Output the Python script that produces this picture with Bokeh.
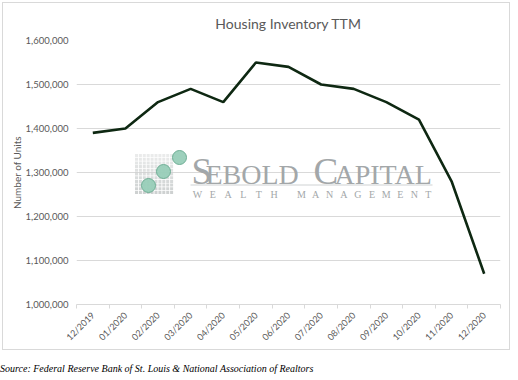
import math
from bokeh.plotting import figure
from bokeh.models import (ColumnDataSource, Range1d, FixedTicker, NumeralTickFormatter,
                          Label, Div, InlineStyleSheet)
from bokeh.layouts import column
from bokeh.embed import file_html
from bokeh.resources import INLINE
from bokeh.core.properties import value

# ---- data ----
months = ["12/2019", "01/2020", "02/2020", "03/2020", "04/2020", "05/2020", "06/2020",
          "07/2020", "08/2020", "09/2020", "10/2020", "11/2020", "12/2020"]
inventory = [1390000, 1400000, 1460000, 1490000, 1460000, 1550000, 1540000,
             1500000, 1490000, 1460000, 1420000, 1280000, 1070000]
y_ticks = [1000000, 1100000, 1200000, 1300000, 1400000, 1500000, 1600000]

GREY_TXT = "#595959"
GRID = "#d9d9d9"
FONT = "Lato"

idx = list(range(len(months)))
src = ColumnDataSource(dict(x=idx, y=inventory, m=months))

p = figure(frame_width=424, frame_height=264, output_backend="svg", toolbar_location=None,
           x_range=Range1d(-0.5, len(months) - 0.5), y_range=Range1d(y_ticks[0], y_ticks[-1]),
           min_border_left=73, min_border_right=9, min_border_top=36, min_border_bottom=39,
           outline_line_color=None, margin=(3, 0, 0, 3))
p.stylesheets = [InlineStyleSheet(css=":host { outline: 1px solid #d9d9d9; }")]

p.title.text = "Housing Inventory TTM"
p.title.align = "center"
p.title.text_font = FONT
p.title.text_font_size = "14px"
p.title.text_font_style = "normal"
p.title.text_color = GREY_TXT
p.title.standoff = 18

# y axis
p.yaxis.ticker = FixedTicker(ticks=y_ticks)
p.yaxis.formatter = NumeralTickFormatter(format="0,0")
p.yaxis.axis_line_color = None
p.yaxis.major_tick_line_color = None
p.yaxis.minor_tick_line_color = None
p.yaxis.major_tick_out = 0
p.yaxis.major_tick_in = 0
p.yaxis.major_label_standoff = 8
p.yaxis.major_label_text_font = FONT
p.yaxis.major_label_text_font_size = "9.5px"
p.yaxis.major_label_text_color = GREY_TXT
p.yaxis.axis_label = "Number of Units"
p.yaxis.axis_label_text_font = FONT
p.yaxis.axis_label_text_font_size = "10px"
p.yaxis.axis_label_text_font_style = "normal"
p.yaxis.axis_label_text_color = GREY_TXT
p.yaxis.axis_label_standoff = 0

# x axis
p.xaxis.ticker = FixedTicker(ticks=idx, minor_ticks=[i - 0.5 for i in range(len(months) + 1)])
p.xaxis.major_label_overrides = {i: m for i, m in enumerate(months)}
p.xaxis.major_label_orientation = math.pi / 4
p.xaxis.axis_line_color = GRID
p.xaxis.major_tick_line_color = None
p.xaxis.minor_tick_line_color = GRID
p.xaxis.minor_tick_out = 4
p.xaxis.minor_tick_in = 0
p.xaxis.major_label_standoff = 3
p.xaxis.major_label_text_font = FONT
p.xaxis.major_label_text_font_size = "9px"
p.xaxis.major_label_text_color = GREY_TXT

p.xgrid.grid_line_color = None
p.ygrid.grid_line_color = GRID
p.ygrid.grid_line_width = 1

# ---- watermark (decoration, positioned in frame pixels) ----
FL, FR, FT, FB = 76, 500, 39, 303
def dx(px):
    return -0.5 + (px - FL) / (FR - FL) * len(months)
def dy(py):
    return y_ticks[-1] - (py - FT) / (FB - FT) * (y_ticks[-1] - y_ticks[0])

WM = "#a3a7a9"
sq_x, sq_y, sq_a = [], [], []
for r in range(11):
    for c in range(10):
        sq_x.append(dx(136 + c * 3.9))
        sq_y.append(dy(154 + r * 3.7))
        sq_a.append(0.35 + 0.45 * (r / 10))
p.scatter(sq_x, sq_y, marker="square", size=3, fill_color="#c2c6c6", line_color=None,
          fill_alpha=sq_a)
p.scatter([dx(148), dx(163), dx(179)], [dy(184), dy(170), dy(156)], size=14,
          fill_color="#98cdb8", line_color="#6fae95", line_width=1, fill_alpha=0.95)
p.segment(x0=[dx(190)], y0=[dy(183.5)], x1=[dx(432)], y1=[dy(183.5)],
          line_color="#cfd2d3", line_width=1)
for txt, px, size in [("S", 191, 37), ("EBOLD", 205, 28),
                      ("C", 313, 37), ("APITAL", 334, 28)]:
    p.add_layout(Label(x=dx(px), y=dy(183 - 0.36 * size), text=txt, text_font="Liberation Serif",
                       text_font_size=f"{size}px", text_color=WM, text_baseline="middle",
                       text_align="left"))
wl_x, wl_y, wl_t = [], [], []
for i, ch in enumerate("WEALTH"):
    wl_x.append(dx(197 + i * 15.3)); wl_y.append(dy(192.5)); wl_t.append(ch)
for i, ch in enumerate("MANAGEMENT"):
    wl_x.append(dx(301 + i * 14.1)); wl_y.append(dy(192.5)); wl_t.append(ch)
p.text(wl_x, wl_y, text=wl_t, text_font=value("Liberation Serif"), text_font_size="10px",
       text_color=WM, text_align="center", text_baseline="middle")

# ---- data line ----
p.line("x", "y", source=src, line_color="#0e2812", line_width=2.6)

source = Div(text="Source: Federal Reserve Bank of St. Louis &amp; National Association of Realtors",
             width=502, height=24, margin=(0, 0, 0, 0),
             styles={"font-family": "Liberation Serif", "font-size": "10px",
                     "font-style": "italic", "color": "#000000", "padding-top": "13px"})

layout = column(p, source, spacing=0)
open("out.html", "w").write(file_html(layout, INLINE))
